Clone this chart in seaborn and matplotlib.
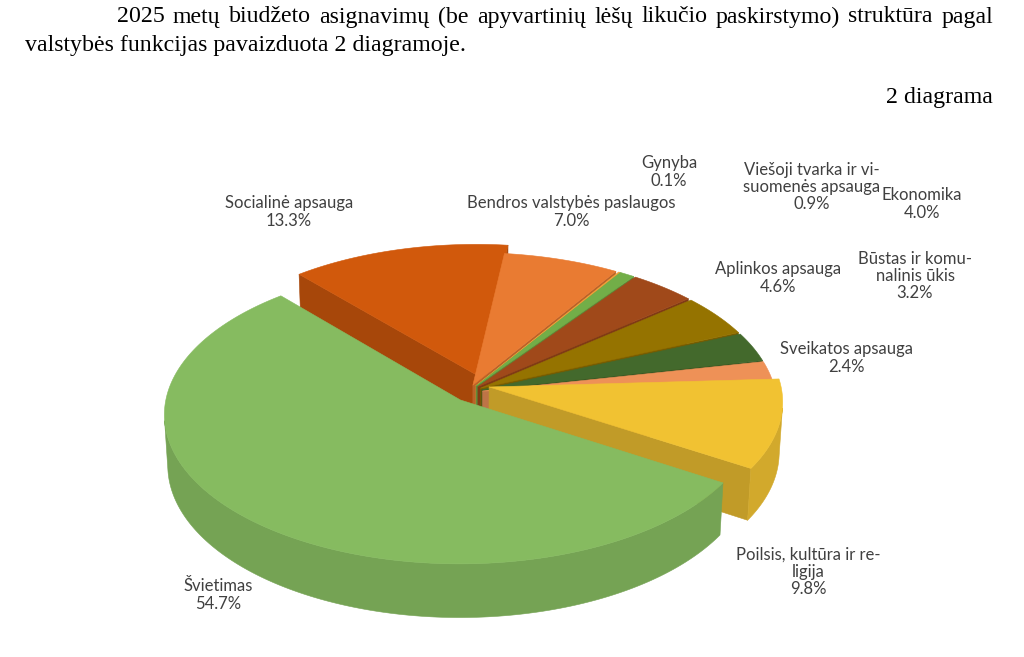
import numpy as np
import matplotlib
matplotlib.use('Agg')
import matplotlib.pyplot as plt
import seaborn as sns
from matplotlib.patches import Polygon, Rectangle
from matplotlib.colors import to_rgb
from matplotlib.font_manager import FontProperties
from matplotlib.textpath import TextPath

sns.set_theme(style='white')
plt.rcParams['font.family'] = ['Lato', 'DejaVu Sans']

# duomenys (valstybės funkcijos, % nuo asignavimų)
funkcijos = ['Bendros valstybės paslaugos', 'Gynyba', 'Viešoji tvarka ir visuomenės apsauga',
             'Ekonomika', 'Aplinkos apsauga', 'Būstas ir komunalinis ūkis', 'Sveikatos apsauga',
             'Poilsis, kultūra ir religija', 'Švietimas', 'Socialinė apsauga']
procentai = [7.0, 0.1, 0.9, 4.0, 4.6, 3.2, 2.4, 9.8, 54.7, 13.3]
etiketes = ['Bendros valstybės paslaugos', 'Gynyba', 'Viešoji tvarka ir vi-\nsuomenės apsauga',
            'Ekonomika', 'Aplinkos apsauga', 'Būstas ir komu-\nnalinis ūkis', 'Sveikatos apsauga',
            'Poilsis, kultūra ir re-\nligija', 'Švietimas', 'Socialinė apsauga']

# stilius
spalvos = ['#E97B32', '#F2A33A', '#72AE48', '#A0491A', '#957300', '#43692C', '#EE9157',
           '#F1C232', '#86BB60', '#D1590C']
isketimas = [0.05, 0.05, 0.05, 0.05, 0.05, 0.05, 0.05, 0.08, 0.06, 0.12]
kryptis = [0, 0, 0, 0, 0, 0, 0, 40, 15, -32]  # išskleidimo krypties pataisa, laipsniais
etikeciu_vietos = [(571, 212), (669, 172), (812, 187), (922, 204), (778, 278), (915, 276),
                   (846, 358), (808, 572), (218, 595), (289, 212)]

# 3D projekcija
CX, CY = 468, 392
S = 293
ALFA = np.radians(30)
D = 9.0
H = 0.2
PRADZIA = 83.1
APACIA = 607  # diagramos ploto apačia


def proj(X, Y, Z):
    v = Y * np.sin(ALFA) + Z * np.cos(ALFA)
    w = Y * np.cos(ALFA) - Z * np.sin(ALFA)
    s = D / (D + w)
    return CX + S * X * s, CY - S * v * s


def tamsiau(c, k):
    r, g, b = to_rgb(c)
    return (r * k, g * k, b * k)


fig = plt.figure(figsize=(10.24, 6.57), dpi=100)
ax = fig.add_axes([0, 0, 1, 1])
ax.set_xlim(0, 1024)
ax.set_ylim(657, 0)
ax.axis('off')
klipas = Rectangle((0, 0), 1024, APACIA, transform=ax.transData)


def piesti(taskai, spalva):
    xs, ys = proj(*np.array(taskai).T)
    p = Polygon(np.column_stack([xs, ys]), closed=True, facecolor=spalva,
                edgecolor=spalva, linewidth=0.4, joinstyle='round')
    p.set_clip_path(klipas)
    ax.add_patch(p)


kampai = np.array(procentai) / sum(procentai) * 360
galai = PRADZIA - np.cumsum(kampai)
pradzios = galai + kampai
vidurys = np.radians((pradzios + galai) / 2)
tvarka = np.argsort(-np.sin(vidurys))
cam = D * np.cos(ALFA)

for i in tvarka:
    t1, t2 = np.radians(pradzios[i]), np.radians(galai[i])
    kr = vidurys[i] + np.radians(kryptis[i])
    ox, oy = isketimas[i] * np.cos(kr), isketimas[i] * np.sin(kr)
    n = max(3, int(kampai[i] * 2) + 2)
    ts = np.linspace(t1, t2, n)
    c = spalvos[i]

    # pjūvio sienelės
    if ox * np.sin(t1) - np.cos(t1) * (cam + oy) > 0:
        piesti([(ox, oy, 0), (ox + np.cos(t1), oy + np.sin(t1), 0),
                (ox + np.cos(t1), oy + np.sin(t1), -H), (ox, oy, -H)], tamsiau(c, 0.8))
    if -ox * np.sin(t2) + np.cos(t2) * (cam + oy) > 0:
        piesti([(ox, oy, 0), (ox + np.cos(t2), oy + np.sin(t2), 0),
                (ox + np.cos(t2), oy + np.sin(t2), -H), (ox, oy, -H)], tamsiau(c, 0.8))

    # išorinė sienelė (tik matoma dalis)
    matoma = -1 - ox * np.cos(ts) - oy * np.sin(ts) - cam * np.sin(ts) > 0
    if matoma.sum() > 1:
        tv = ts[matoma]
        sien = [(ox + np.cos(t), oy + np.sin(t), 0) for t in tv] + \
               [(ox + np.cos(t), oy + np.sin(t), -H) for t in tv[::-1]]
        piesti(sien, tamsiau(c, 0.87))

    # viršus
    virsus = [(ox, oy, 0)] + [(ox + np.cos(t), oy + np.sin(t), 0) for t in ts]
    piesti(virsus, c)

# etiketės
for i in range(len(funkcijos)):
    x, y = etikeciu_vietos[i]
    ax.text(x, y, f'{etiketes[i]}\n{procentai[i]:.1f}%', ha='center', va='center',
            multialignment='center', fontsize=12, color='#404040', linespacing=1.1)

# antraštė (pirma eilutė išlyginta iš abiejų pusių)
serif = ['Liberation Serif', 'DejaVu Serif']
DYDIS = 17.2
eilute = '2025 metų biudžeto asignavimų (be apyvartinių lėšų likučio paskirstymo) struktūra pagal'
zodziai = eilute.split()
fp = FontProperties(family='Liberation Serif', size=DYDIS)
plociai = []
for z in zodziai:
    kel = TextPath((0, 0), z, prop=fp)
    ext = kel.get_extents()
    plociai.append(ext.x1 * fig.dpi / 72)
tarpas = (993 - 117 - sum(plociai)) / (len(zodziai) - 1)
x = 117
for z, w in zip(zodziai, plociai):
    ax.text(x, 17, z, ha='left', va='center', fontsize=DYDIS, family=serif, color='black')
    x += w + tarpas

ax.text(25, 46, 'valstybės funkcijas pavaizduota 2 diagramoje.', ha='left', va='center',
        fontsize=DYDIS, family=serif, color='black')
ax.text(993, 97, '2 diagrama', ha='right', va='center', fontsize=DYDIS, family=serif, color='black')

fig.savefig('out.png', dpi=100, facecolor='white')
